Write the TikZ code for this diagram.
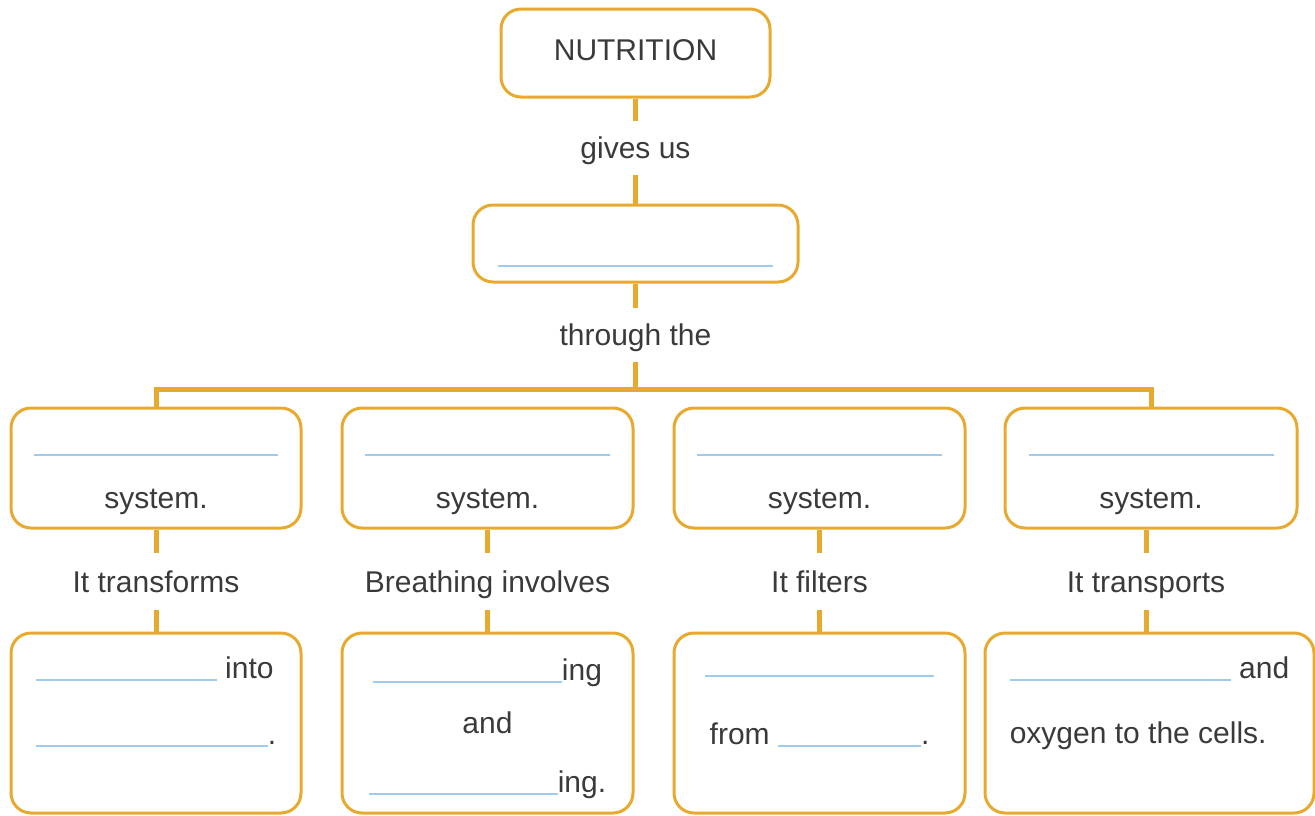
\documentclass[tikz,border=0pt]{standalone}
\usepackage{fontspec}
\setmainfont{Liberation Sans}
\usepackage{tikz}
\definecolor{mapgold}{HTML}{E8AA2E}
\definecolor{blankblue}{HTML}{9ECBEE}
\definecolor{inkgrey}{HTML}{3A3A3A}
\newcommand{\linkwidth}{5pt}
\newcommand{\boxline}{3pt}
\newcommand{\blank}[1]{\textcolor{blankblue}{\rule[-3.25pt]{#1}{2pt}}}
\newcommand{\topgap}[1]{\rule{0pt}{#1}}
\newcommand{\botgap}[1]{\rule[-#1]{0pt}{#1}}
\tikzset{
  mapbox/.style={draw=mapgold, line width=\boxline, rounded corners=20pt, inner sep=0pt, align=center, text=inkgrey},
  linkword/.style={inner sep=0pt, minimum height=54pt, text height=26pt, text depth=5pt, text=inkgrey},
  link/.style={draw=mapgold, line width=\linkwidth},
}

\begin{document}
\begin{tikzpicture}[x=1pt, y=-1pt, font=\fontsize{30pt}{36pt}\selectfont]
\useasboundingbox (0,0) rectangle (1315,815);
%top
\node[mapbox, minimum width=269pt, minimum height=88pt] (nutrition) at (635.5, 53) {NUTRITION\botgap{6pt}};
\node[linkword] (gives) at (635.5, 148) {gives us};
\node[mapbox, minimum width=325pt, minimum height=77pt] (energy) at (635.5, 243.5) {\topgap{45pt}\blank{275pt}\botgap{4.5pt}};
\node[linkword] (through) at (635.5, 335) {through the};
\coordinate (bar) at (635.5, 389);
%systems
\node[mapbox, minimum width=290pt, minimum height=120pt] (digest) at (156, 468) {\topgap{35pt}\blank{245pt}\\[19pt]system.\botgap{10pt}};
\node[mapbox, minimum width=291pt, minimum height=120pt] (breath) at (487.5, 468) {\topgap{35pt}\blank{245pt}\\[19pt]system.\botgap{10pt}};
\node[mapbox, minimum width=291pt, minimum height=120pt] (filter) at (819.5, 468) {\topgap{35pt}\blank{245pt}\\[19pt]system.\botgap{10pt}};
\node[mapbox, minimum width=292pt, minimum height=120pt] (carry) at (1151, 468) {\topgap{35pt}\blank{245pt}\\[19pt]system.\botgap{10pt}};
%linking words
\node[linkword, minimum height=57pt] (transforms) at (156, 581.5) {It transforms};
\node[linkword, minimum height=57pt] (involves) at (487.5, 581.5) {Breathing involves};
\node[linkword, minimum height=57pt] (filters) at (819.5, 581.5) {It filters};
\node[linkword, minimum height=57pt] (transports) at (1146, 581.5) {It transports};
%answers
\node[mapbox, align=left, minimum width=290pt, minimum height=180pt] (digestans) at (156, 723) {\topgap{25pt}\blank{181pt} into\\[30pt]\blank{232pt}.\botgap{49pt}};
\node[mapbox, minimum width=291pt, minimum height=180pt] (breathans) at (487.5, 723) {\topgap{35pt}\blank{189pt}ing\\[17pt]and\\[23pt]\blank{189pt}ing.\botgap{9pt}};
\node[mapbox, minimum width=291pt, minimum height=180pt] (filterans) at (819.5, 723) {\topgap{25pt}\blank{229pt}\\[34pt]from \blank{143pt}.\botgap{53pt}};
\node[mapbox, align=left, minimum width=329pt, minimum height=180pt] (carryans) at (1149.5, 723) {\topgap{25pt}\blank{221pt} and\\[29pt]oxygen to the cells.\botgap{50pt}};
%links
\draw[link] (nutrition) -- (gives);
\draw[link] (gives) -- (energy);
\draw[link] (energy) -- (through);
\draw[link] (through) -- (bar);
\draw[link] (digest.north) |- (bar) -| (carry.north);
\draw[link] (digest) -- (transforms);
\draw[link] (breath) -- (involves);
\draw[link] (filter) -- (filters);
\draw[link] (carry.south -| transports) -- (transports);
\draw[link] (transforms) -- (digestans);
\draw[link] (involves) -- (breathans);
\draw[link] (filters) -- (filterans);
\draw[link] (transports) -- (transports |- carryans.north);
\end{tikzpicture}
\end{document}
